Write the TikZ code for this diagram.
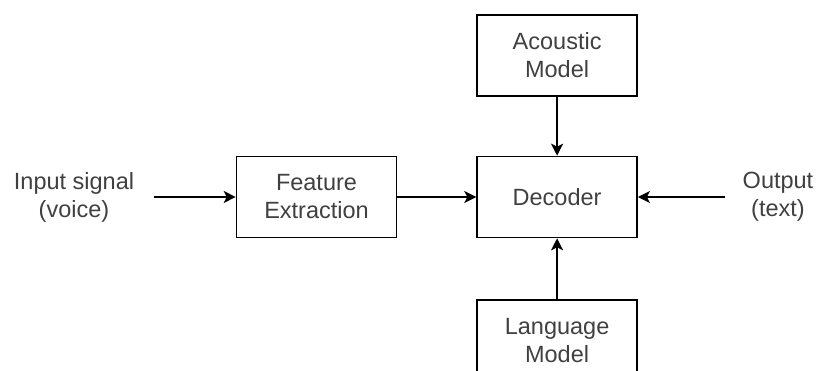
\documentclass[tikz,border=0pt]{standalone}
\usepackage{fontspec}
\setmainfont{Liberation Sans}
\usetikzlibrary{arrows.meta,positioning}

\begin{document}
\begin{tikzpicture}[x=1pt,y=1pt,>={Stealth[length=12pt,width=12pt,inset=3pt]},
                line width=1.6pt,node distance=79pt,
                block/.style={rectangle,draw,minimum width=160pt,minimum height=81pt,
                  inner sep=0pt,align=center,text=black!75,font=\fontsize{23.5}{28}\selectfont},
                io text/.style={align=center,inner sep=0pt,text=black!75,font=\fontsize{23.5}{28}\selectfont}]

  \clip (0,0) rectangle (822,-371);

  \node[block] (feat) at (316.5,-197) {Feature\\Extraction};
  \node[block] (dec) [right=of feat] {Decoder};
  \node[block] (ac) [above=59pt of dec] {Acoustic\\Model};
  \node[block] (lang) [below=61pt of dec] {Language\\Model};
  \node[io text] (in) at (74,-197) {Input signal\\(voice)};
  \node[io text] (out) at (778,-197) {Output\\(text)};

  \path[->]
    (in) edge [shorten <=19pt] (feat)
    (feat) edge (dec)
    (ac) edge (dec)
    (lang) edge (dec)
    (out) edge [shorten <=17pt] (dec);
\end{tikzpicture}
\end{document}
